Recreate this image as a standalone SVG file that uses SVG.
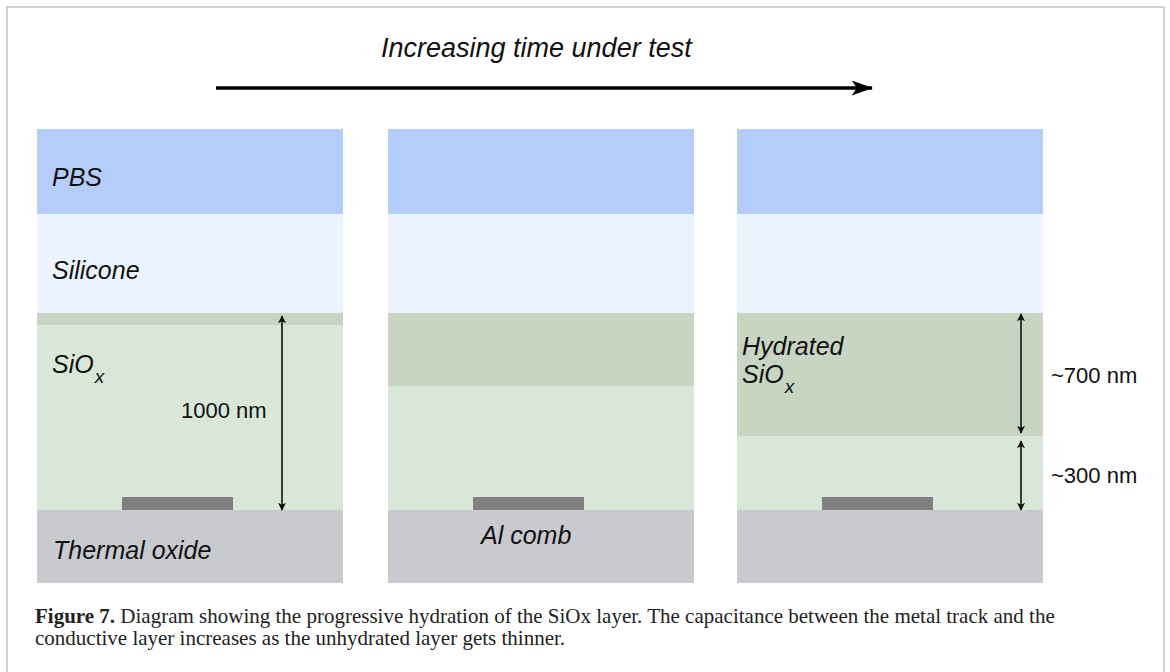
<svg xmlns="http://www.w3.org/2000/svg" width="1170" height="672" viewBox="0 0 1170 672">
<style>
.pbs{fill:#b5cdfa}.sil{fill:#eaf3fe}.hyd{fill:#c8d5c2}.unh{fill:#d9e7d8}.thr{fill:#c8cacd}.met{fill:#808080}
.lab{font-family:"Liberation Sans",Arial,sans-serif;font-style:italic;font-size:25px;fill:#111}
.dim{font-family:"Liberation Sans",Arial,sans-serif;font-size:22px;fill:#111}
.cap{font-family:"Liberation Serif","Times New Roman",serif;font-size:21px;fill:#222}
.dl{stroke:#111;stroke-width:1.6;fill:none}
</style>
<defs>
<marker id="ah" viewBox="0 0 10 10" refX="9" refY="5" markerWidth="8" markerHeight="8" markerUnits="userSpaceOnUse" orient="auto-start-reverse">
<path d="M0,0 L10,5 L0,10 L2.5,5 Z" fill="#111"/>
</marker>
<marker id="big" viewBox="0 0 20 14" refX="19" refY="7" markerWidth="22" markerHeight="15" markerUnits="userSpaceOnUse" orient="auto">
<path d="M0,0 L20,7 L0,14 L5,7 Z" fill="#000"/>
</marker>
</defs>
<rect x="7" y="7" width="1157" height="720" fill="#fff" stroke="#c4c4c4" stroke-width="1.5"/>
<g id="title">
<text x="381" y="57" class="lab" style="font-size:27px">Increasing time under test</text>
</g>
<g id="connectors">
<line x1="216" y1="88" x2="872" y2="88" stroke="#000" stroke-width="3.5" marker-end="url(#big)"/>
</g>
<g id="panel1">
<rect class="pbs" x="37" y="129" width="306" height="85"/>
<rect class="sil" x="37" y="214" width="306" height="99"/>
<rect class="hyd" x="37" y="313" width="306" height="12"/>
<rect class="unh" x="37" y="325" width="306" height="185"/>
<rect class="thr" x="37" y="510" width="306" height="73"/>
<rect class="met" x="122" y="497" width="111" height="13"/>
<line class="dl" x1="282" y1="316" x2="282" y2="510" marker-start="url(#ah)" marker-end="url(#ah)"/>
<text x="52" y="186" class="lab">PBS</text>
<text x="52" y="279" class="lab">Silicone</text>
<text x="52" y="373" class="lab">SiO<tspan dx="1" dy="10" style="font-size:19px">x</tspan></text>
<text x="181" y="418" class="dim">1000 nm</text>
<text x="53" y="559" class="lab">Thermal oxide</text>
</g>
<g id="panel2">
<rect class="pbs" x="388" y="129" width="306" height="85"/>
<rect class="sil" x="388" y="214" width="306" height="99"/>
<rect class="hyd" x="388" y="313" width="306" height="73"/>
<rect class="unh" x="388" y="386" width="306" height="124"/>
<rect class="thr" x="388" y="510" width="306" height="73"/>
<rect class="met" x="473" y="497" width="111" height="13"/>
<text x="481" y="544" class="lab">Al comb</text>
</g>
<g id="panel3">
<rect class="pbs" x="737" y="129" width="306" height="85"/>
<rect class="sil" x="737" y="214" width="306" height="99"/>
<rect class="hyd" x="737" y="313" width="306" height="123"/>
<rect class="unh" x="737" y="436" width="306" height="74"/>
<rect class="thr" x="737" y="510" width="306" height="73"/>
<rect class="met" x="822" y="497" width="111" height="13"/>
<line class="dl" x1="1021" y1="314" x2="1021" y2="433" marker-start="url(#ah)" marker-end="url(#ah)"/>
<line class="dl" x1="1021" y1="441" x2="1021" y2="510" marker-start="url(#ah)" marker-end="url(#ah)"/>
<text x="742" y="355" class="lab">Hydrated</text>
<text x="742" y="383" class="lab">SiO<tspan dx="1" dy="10" style="font-size:19px">x</tspan></text>
<text x="1051" y="383" class="dim">~700 nm</text>
<text x="1051" y="483" class="dim">~300 nm</text>
</g>
<g id="caption">
<text x="35" y="623" class="cap"><tspan font-weight="bold">Figure 7.</tspan> Diagram showing the progressive hydration of the SiOx layer. The capacitance between the metal track and the</text>
<text x="35" y="645" class="cap">conductive layer increases as the unhydrated layer gets thinner.</text>
</g>
</svg>
